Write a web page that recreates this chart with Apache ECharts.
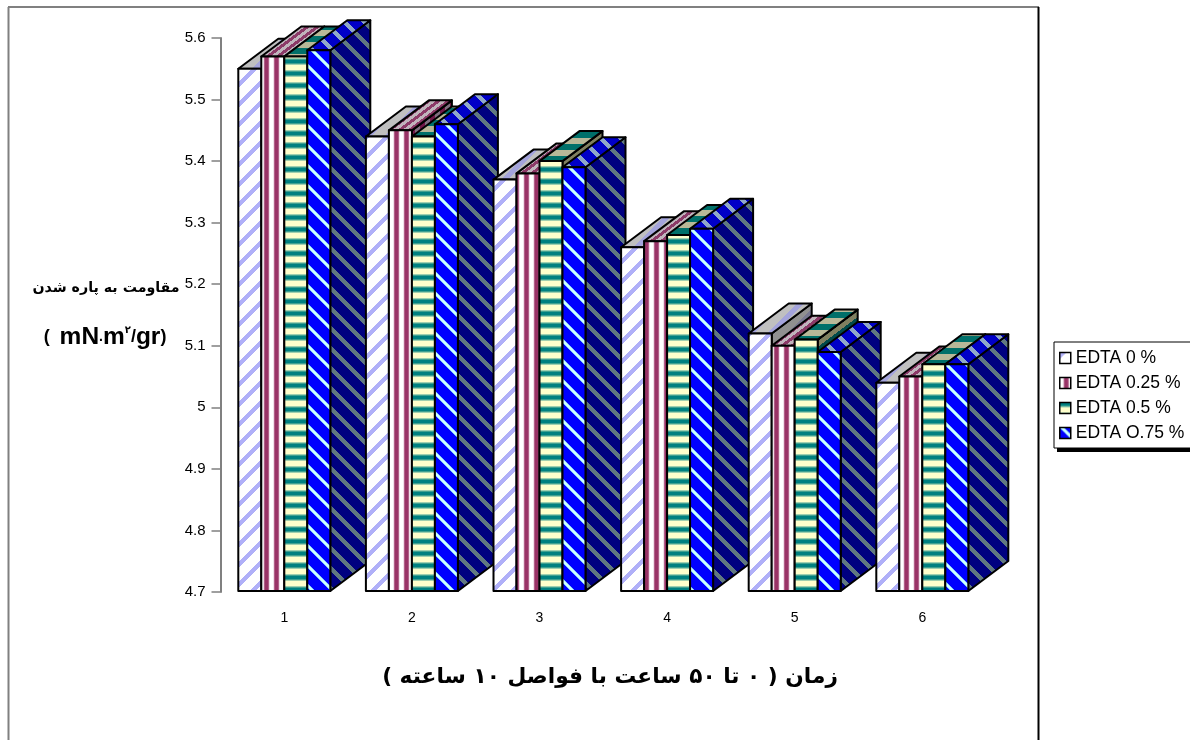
<!DOCTYPE html>
<html><head><meta charset="utf-8">
<style>html,body{margin:0;padding:0;background:#fff}#c{width:1190px;height:740px}</style>
<script src="https://cdn.jsdelivr.net/npm/echarts@6/dist/echarts.min.js"></script>
</head><body><div id="c"></div>
<script>
const categories = ['1','2','3','4','5','6'];
const seriesNames = ['EDTA 0 %','EDTA 0.25 %','EDTA 0.5 %','EDTA O.75 %'];
const edta0   = [5.55,5.44,5.37,5.26,5.12,5.04];
const edta025 = [5.57,5.45,5.38,5.27,5.10,5.05];
const edta05  = [5.57,5.44,5.40,5.28,5.11,5.07];
const edta075 = [5.58,5.46,5.39,5.29,5.09,5.07];
const seriesValues = [edta0,edta025,edta05,edta075];
const xTitle = 'زمان ( ۰ تا ۵۰ ساعت با فواصل ۱۰ ساعته )\u200F';
const yTitle = 'مقاومت به پاره شدن';

function hex(c){return [parseInt(c.substr(1,2),16),parseInt(c.substr(3,2),16),parseInt(c.substr(5,2),16)];}
function tile(w,h,f){
  const cv=document.createElement('canvas');cv.width=w;cv.height=h;
  const ctx=cv.getContext('2d');const im=ctx.createImageData(w,h);
  for(let y=0;y<h;y++)for(let x=0;x<w;x++){
    const c=hex(f(x,y));const i=(y*w+x)*4;
    im.data[i]=c[0];im.data[i+1]=c[1];im.data[i+2]=c[2];im.data[i+3]=255;
  }
  ctx.putImageData(im,0,0);
  return {image:cv,repeat:'repeat'};
}
const mod=(a,b)=>((a%b)+b)%b;
const diagUp=(a,b,n)=>tile(20,20,(x,y)=>mod(x+y,20)<n?b:a);
const diagDown=(a,b,n)=>tile(20,20,(x,y)=>mod(x-y,20)<n?b:a);
const frontPatterns=[
  diagUp('#ffffff','#b0b0f8',6),
  tile(10,10,(x)=>['#ffffff','#ffffff','#ffffff','#f0e0e8','#b06088','#993366','#993366','#993366','#b06088','#f0e0e8'][x]),
  tile(12,12,(x,y)=>['#008080','#008080','#008080','#40a090','#a0d0b0','#ffffcc','#ffffcc','#ffffcc','#ffffcc','#ffffcc','#a0d0b0','#40a090'][y]),
  tile(20,20,(x,y)=>{const u=mod(x-y,20);return u<1?'#80c0ff':u<4?'#ccffff':u<5?'#80c0ff':'#0000ff';})
];
const topPatterns=[
  diagUp('#c0c0c0','#a4a4dc',7),
  tile(20,15,(x,y)=>mod(x+Math.round(y*4/3),10)<5?'#8c3a68':'#c0b4bc'),
  tile(12,12,(x,y)=>mod(y,12)<6?'#00706a':'#b8b898'),
  diagDown('#0000c8','#90a8c8',6)
];
const sidePatterns=[
  diagUp('#909090','#787890',7),
  tile(10,10,(x)=>x<5?'#701848':'#807080'),
  tile(16,12,(x,y)=>mod(y+Math.round(x*3/4),12)<6?'#004a4a':'#808060'),
  diagDown('#000080','#607880',6)
];

const depthX=40, depthY=30, barShare=23/127.6;
function renderBar(sIdx){
  return function(params,api){
    const cat=api.value(0), v=api.value(1);
    const top=api.coord([cat,v]), base=api.coord([cat,4.7]);
    const w=api.size([1,0])[0]*barShare;
    const x0=top[0]-2*w+sIdx*w, x1=x0+w, yt=top[1], yb=base[1]-1;
    const z=cat*100+sIdx*10;
    const mk=(pts,fill,k)=>({type:'polygon',z2:z+k,shape:{points:pts},
      style:{fill:fill,stroke:'#000',lineWidth:2,lineJoin:'round'}});
    return {type:'group',children:[
      mk([[x1,yt],[x1+depthX,yt-depthY],[x1+depthX,yb-depthY],[x1,yb]],sidePatterns[sIdx],0),
      mk([[x0,yt],[x0+depthX,yt-depthY],[x1+depthX,yt-depthY],[x1,yt]],topPatterns[sIdx],1),
      mk([[x0,yt],[x1,yt],[x1,yb],[x0,yb]],frontPatterns[sIdx],2)
    ]};
  };
}
const frame={type:'group',silent:true,children:[
  {type:'line',shape:{x1:8,y1:7,x2:1039,y2:7},style:{stroke:'#808080',lineWidth:2}},
  {type:'line',shape:{x1:8.5,y1:7,x2:8.5,y2:740},style:{stroke:'#808080',lineWidth:2}},
  {type:'line',shape:{x1:1038.5,y1:7,x2:1038.5,y2:740},style:{stroke:'#000',lineWidth:2}},
  {type:'rect',z:0,shape:{x:1057,y:448,width:133,height:4},style:{fill:'#000'}}
]};
const fa='"DejaVu Sans"', lat='"Liberation Sans"';
const chart=echarts.init(document.getElementById('c'),null,{renderer:'canvas'});
chart.setOption({
  animation:false,
  backgroundColor:'#fff',
  textStyle:{fontFamily:lat},
  grid:{left:220.5,top:38,width:765.6,height:554,containLabel:false},
  graphic:[frame],
  title:[
    {text:xTitle,left:605,top:661,textAlign:'center',textStyle:{fontFamily:fa,fontWeight:'bold',fontSize:21.7,color:'#000'}},
    {text:yTitle,left:101,top:276,textAlign:'center',textStyle:{fontFamily:fa,fontWeight:'bold',fontSize:14.2,color:'#000'}},
    {text:'{a|(  }{b|mN}{c|.}{b|m}{s|۲}{a|/}{b|gr}{a|)}',left:100,top:320,textAlign:'center',
     textStyle:{rich:{
       a:{fontFamily:lat,fontSize:18,color:'#000'},
       c:{fontFamily:lat,fontSize:14,color:'#000'},
       b:{fontFamily:lat,fontSize:24.5,fontWeight:'bold',color:'#000'},
       s:{fontFamily:fa,fontSize:10,fontWeight:'bold',color:'#000',verticalAlign:'top',padding:[0,0,8,0]}
     }}}
  ],
  legend:{
    orient:'vertical',left:1054,top:342,
    data:seriesNames,icon:'rect',itemWidth:11,itemHeight:11,itemGap:7,
    padding:[7,30,6,5],backgroundColor:'#fff',borderColor:'#000',borderWidth:1,
    textStyle:{fontFamily:lat,fontSize:17.5,color:'#000',padding:[0,0,0,0]},
    itemStyle:{borderColor:'#000',borderWidth:1.5},selectedMode:false
  },
  xAxis:{type:'category',data:categories,axisLine:{show:false},axisTick:{show:false},
    axisLabel:{margin:19,fontSize:14,color:'#000',fontFamily:lat},splitLine:{show:false}},
  yAxis:{type:'value',min:4.7,max:5.6,interval:0.1,
    axisLine:{show:true,lineStyle:{color:'#808080',width:2}},
    axisTick:{show:true,length:9,lineStyle:{color:'#808080',width:1.5}},
    axisLabel:{margin:15,fontSize:15,color:'#000',fontFamily:lat},splitLine:{show:false}},
  series:seriesNames.map((n,s)=>({
    name:n,type:'custom',coordinateSystem:'cartesian2d',silent:true,clip:false,
    renderItem:renderBar(s),
    itemStyle:{color:frontPatterns[s]},
    encode:{x:0,y:1},
    data:seriesValues[s].map((v,i)=>[i,v])
  }))
});
</script></body></html>
